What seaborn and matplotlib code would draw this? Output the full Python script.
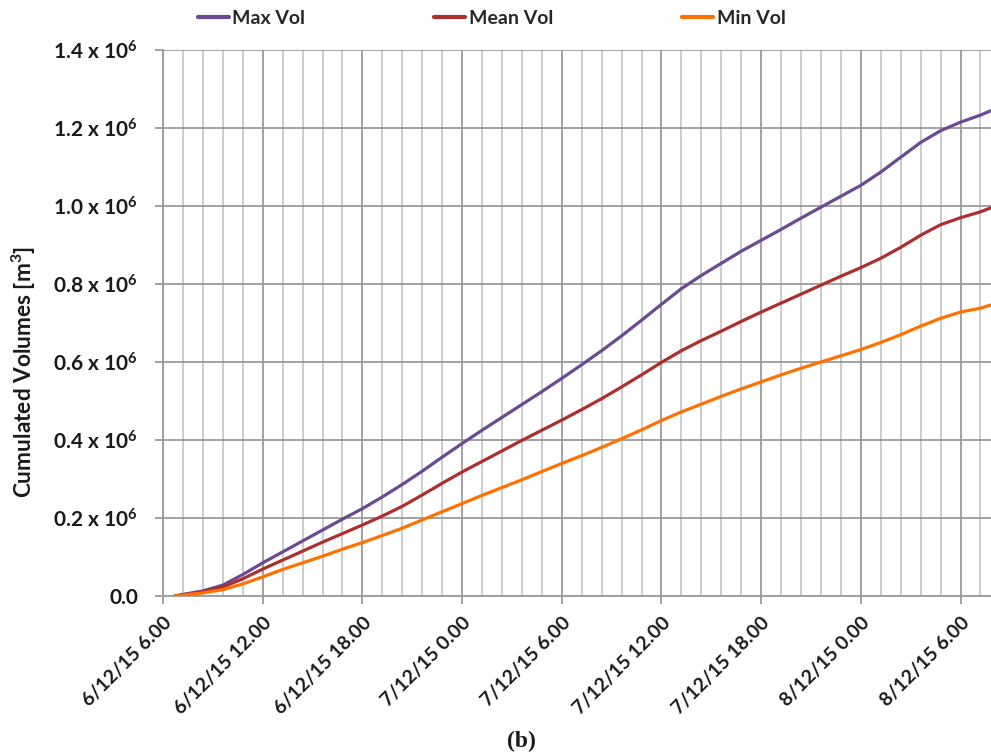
import matplotlib
matplotlib.use("Agg")
import matplotlib.pyplot as plt
import matplotlib.dates as mdates
import seaborn as sns
import pandas as pd

# Cumulated flood volumes, 6-8 December 2015
times = [
    "2015-12-06 06:43", "2015-12-06 07:12", "2015-12-06 08:24", "2015-12-06 09:36",
    "2015-12-06 10:48", "2015-12-06 12:00", "2015-12-06 13:12", "2015-12-06 14:24",
    "2015-12-06 15:36", "2015-12-06 16:48", "2015-12-06 18:00", "2015-12-06 19:12",
    "2015-12-06 20:24", "2015-12-06 21:36", "2015-12-06 22:48", "2015-12-07 00:00",
    "2015-12-07 01:12", "2015-12-07 02:24", "2015-12-07 03:36", "2015-12-07 04:48",
    "2015-12-07 06:00", "2015-12-07 07:12", "2015-12-07 08:24", "2015-12-07 09:36",
    "2015-12-07 10:48", "2015-12-07 12:00", "2015-12-07 13:12", "2015-12-07 14:24",
    "2015-12-07 15:36", "2015-12-07 16:48", "2015-12-07 18:00", "2015-12-07 19:12",
    "2015-12-07 20:24", "2015-12-07 21:36", "2015-12-07 22:48", "2015-12-08 00:00",
    "2015-12-08 01:12", "2015-12-08 02:24", "2015-12-08 03:36", "2015-12-08 04:48",
    "2015-12-08 06:00", "2015-12-08 07:12", "2015-12-08 07:48",
]
max_vol = [
    0, 4e3, 13e3, 28e3, 55e3, 85e3, 113e3, 141e3, 169e3, 197e3, 224e3, 254e3,
    286e3, 320e3, 356e3, 391e3, 425e3, 458e3, 491e3, 524e3, 558e3, 593e3, 629e3,
    667e3, 707e3, 748e3, 788e3, 822e3, 853e3, 884e3, 912e3, 940e3, 969e3, 997e3,
    1025e3, 1053e3, 1087e3, 1125e3, 1163e3, 1193e3, 1215e3, 1233e3, 1244e3,
]
mean_vol = [
    0, 3e3, 11e3, 23e3, 44e3, 69e3, 92e3, 115e3, 138e3, 160e3, 182e3, 205e3,
    230e3, 259e3, 289e3, 318e3, 345e3, 372e3, 399e3, 425e3, 451e3, 478e3, 506e3,
    536e3, 567e3, 599e3, 629e3, 655e3, 679e3, 704e3, 728e3, 751e3, 774e3, 797e3,
    820e3, 842e3, 866e3, 894e3, 925e3, 952e3, 970e3, 985e3, 995e3,
]
min_vol = [
    0, 2e3, 8e3, 16e3, 31e3, 49e3, 68e3, 85e3, 102e3, 120e3, 137e3, 155e3,
    174e3, 195e3, 216e3, 237e3, 258e3, 278e3, 298e3, 319e3, 340e3, 360e3, 381e3,
    403e3, 426e3, 450e3, 472e3, 492e3, 512e3, 531e3, 549e3, 567e3, 584e3, 600e3,
    616e3, 632e3, 650e3, 670e3, 692e3, 712e3, 728e3, 738e3, 746e3,
]
series_names = ["Max Vol", "Mean Vol", "Min Vol"]
series_colors = ["#694a93", "#ad2f2d", "#ff7100"]

y_ticks = [0, 0.2e6, 0.4e6, 0.6e6, 0.8e6, 1.0e6, 1.2e6, 1.4e6]
y_tick_labels = ["0.0", "0.2 x 10$^6$", "0.4 x 10$^6$", "0.6 x 10$^6$",
                 "0.8 x 10$^6$", "1.0 x 10$^6$", "1.2 x 10$^6$", "1.4 x 10$^6$"]
x_tick_labels = ["6/12/15 6.00", "6/12/15 12.00", "6/12/15 18.00", "7/12/15 0.00",
                 "7/12/15 6.00", "7/12/15 12.00", "7/12/15 18.00", "8/12/15 0.00",
                 "8/12/15 6.00"]

sns.set_theme(style="white")
FONT = "Lato"
plt.rcParams["font.family"] = [FONT, "DejaVu Sans"]
plt.rcParams["mathtext.fontset"] = "custom"
plt.rcParams["mathtext.rm"] = f"{FONT}:bold"
plt.rcParams["mathtext.it"] = f"{FONT}:bold"
plt.rcParams["mathtext.bf"] = f"{FONT}:bold"
plt.rcParams["mathtext.default"] = "rm"

df = pd.DataFrame({
    "time": pd.to_datetime(times * 3),
    "volume": max_vol + mean_vol + min_vol,
    "series": [s for s in series_names for _ in times],
})

fig = plt.figure(figsize=(9.91, 7.55), dpi=100)
ax = fig.add_axes([163 / 991, 1 - 596 / 755, 1 - 163 / 991, (596 - 50) / 755])

sns.lineplot(data=df, x="time", y="volume", hue="series", hue_order=series_names,
             palette=series_colors, linewidth=2.3, ax=ax, legend=False, zorder=3)
for line in ax.get_lines():
    line.set_solid_joinstyle("round")

major_col = "#9b9b9b"
minor_col = "#c8c8c8"
text_col = "#1a1a1a"

x0 = pd.Timestamp("2015-12-06 06:00")
major_x = pd.date_range(x0, periods=9, freq="6h")
minor_x = pd.date_range(x0, periods=42, freq="72min")
ax.set_xlim(x0, pd.Timestamp("2015-12-08 07:50"))
ax.set_ylim(0, 1.4e6)

ax.set_xticks(mdates.date2num(major_x))
ax.set_xticks(mdates.date2num(minor_x), minor=True)
ax.set_xticklabels(x_tick_labels, rotation=45, ha="right", va="top",
                   rotation_mode="anchor", fontsize=14, fontweight="bold",
                   color=text_col)
ax.set_yticks(y_ticks)
ax.set_yticklabels(y_tick_labels, fontsize=15, fontweight="bold", color=text_col)

ax.grid(True, which="minor", axis="x", color=minor_col, linewidth=1.3, zorder=0)
ax.grid(True, which="major", axis="x", color=major_col, linewidth=1.3, zorder=1)
ax.grid(True, which="major", axis="y", color=major_col, linewidth=1.3, zorder=1)
ax.set_axisbelow(True)

ax.tick_params(axis="both", which="major", length=6, width=1.3, color=major_col,
               direction="out", bottom=True, left=True)
ax.tick_params(axis="x", which="major", pad=7)
ax.tick_params(axis="y", which="major", pad=12)
ax.tick_params(axis="x", which="minor", length=0)

for side in ["top", "right"]:
    ax.spines[side].set_visible(False)
for side in ["left", "bottom"]:
    ax.spines[side].set_color(major_col)
    ax.spines[side].set_linewidth(1.3)

ax.set_xlabel("")
ax.set_ylabel("Cumulated Volumes [m$^3$]", fontsize=16.3, fontweight="bold",
              color=text_col, va="center")
ax.yaxis.set_label_coords((24 - 163) / 828, (596 - 372) / 546)

handles = [plt.Line2D([], [], color=c, linewidth=3) for c in series_colors]
fig.legend(handles, series_names, loc="center left",
           bbox_to_anchor=(180 / 991, 1 - 18 / 755), ncol=3, frameon=False,
           handlelength=1.6, handletextpad=0.2, columnspacing=6.6,
           prop={"weight": "bold", "size": 14})

fig.text(521 / 991, 1 - 741 / 755, "(b)", ha="center", va="center", fontsize=17,
         fontweight="bold", family="Liberation Serif", color=text_col)

fig.savefig("out.png", dpi=100)
